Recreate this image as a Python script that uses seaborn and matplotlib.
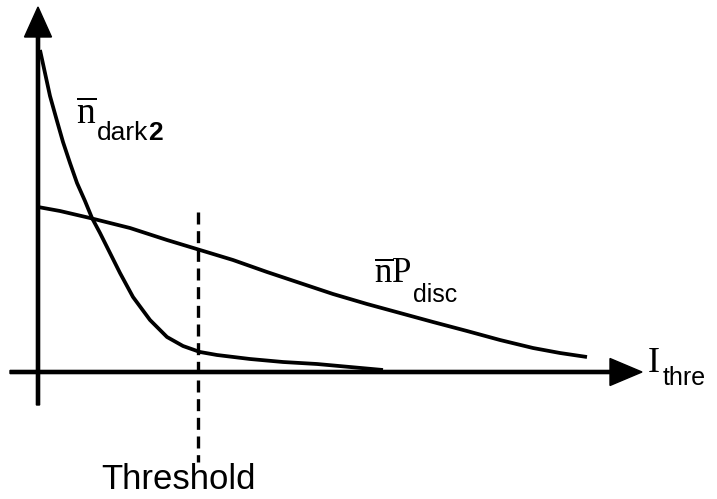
import numpy as np
import pandas as pd
import matplotlib
matplotlib.use("Agg")
import matplotlib.pyplot as plt
import seaborn as sns

# Dark-count curve n̄_dark2 versus discrimination threshold
dark_x = [0.02, 0.07, 0.12, 0.19, 0.25, 0.32, 0.39, 0.47, 0.54, 0.62, 0.69,
          0.82, 0.95, 1.12, 1.29, 1.45, 1.62, 1.79, 2.12, 2.45, 2.79, 3.12,
          3.45]
dark_y = [3.22, 2.99, 2.76, 2.51, 2.30, 2.09, 1.89, 1.71, 1.54, 1.39, 1.25,
          0.99, 0.75, 0.52, 0.35, 0.26, 0.20, 0.17, 0.13, 0.10, 0.08, 0.05,
          0.02]

# Signal curve n̄ P_disc versus discrimination threshold
disc_x = [0.00, 0.22, 0.52, 0.92, 1.29, 1.62, 1.95, 2.29, 2.62, 2.95, 3.29,
          3.62, 3.95, 4.29, 4.62, 4.95, 5.22, 5.49]
disc_y = [1.65, 1.61, 1.54, 1.44, 1.32, 1.22, 1.12, 1.00, 0.89, 0.78, 0.68,
          0.59, 0.50, 0.41, 0.32, 0.24, 0.19, 0.15]

# Chosen threshold and the vertical extent of its marker
threshold = 1.60
threshold_span = [1.60, -0.90]

dark = pd.DataFrame({"I": dark_x, "n": dark_y})
disc = pd.DataFrame({"I": disc_x, "n": disc_y})

sns.set_theme(style="white")
plt.rcParams["mathtext.fontset"] = "custom"
plt.rcParams["mathtext.rm"] = "Liberation Serif"
plt.rcParams["mathtext.sf"] = "Liberation Sans"

fig = plt.figure(figsize=(7.17, 4.99), dpi=100)
ax = fig.add_axes([0, 0, 1, 1])
ax.set_xlim(-0.38, 6.79)
ax.set_ylim(-1.27, 3.72)
ax.axis("off")

lw = 2.7
sns.lineplot(data=dark, x="I", y="n", ax=ax, color="black", lw=lw,
             sort=False, estimator=None)
sns.lineplot(data=disc, x="I", y="n", ax=ax, color="black", lw=lw,
             sort=False, estimator=None)
for line in ax.lines:
    line.set_solid_joinstyle("round")
    line.set_solid_capstyle("butt")

# threshold marker
ax.plot([threshold, threshold], threshold_span, color="black", lw=2.4,
        linestyle=(0, (3.6, 2.0)))

# axes with arrow heads
ax.arrow(-0.28, 0, 6.32, 0, width=0.032, head_width=0.27, head_length=0.32,
         length_includes_head=True, color="black")
ax.arrow(0, -0.33, 0, 3.98, width=0.032, head_width=0.27, head_length=0.30,
         length_includes_head=True, color="black")

serif = "Liberation Serif"
sans = "Liberation Sans"

# n̄_dark2 label
ax.text(0.38, 2.48, r"$\overline{\mathrm{n}}$", fontsize=27, color="black",
        ha="left", va="baseline")
t_dark = ax.text(0.59, 2.32, "dark", fontsize=19, family=sans, color="black",
                 ha="left", va="baseline")
ax.annotate("2", xy=(1, 0), xycoords=t_dark, fontsize=19, family=sans,
            fontweight="bold", color="black", ha="left", va="bottom")

# n̄ P_disc label
ax.text(3.36, 0.89, r"$\overline{\mathrm{n}}\mathrm{P}$", fontsize=25,
        color="black", ha="left", va="baseline")
ax.text(3.75, 0.70, "disc", fontsize=18, family=sans, color="black",
        ha="left", va="baseline")

# axis label I_thre
ax.text(6.10, 0.00, "I", fontsize=26, family=serif, color="black",
        ha="left", va="baseline")
ax.text(6.25, -0.13, "thre", fontsize=18, family=sans, color="black",
        ha="left", va="baseline")

ax.text(1.40, -1.17, "Threshold", fontsize=25, family=sans, color="black",
        ha="center", va="baseline")

fig.savefig("out.png", dpi=100)
